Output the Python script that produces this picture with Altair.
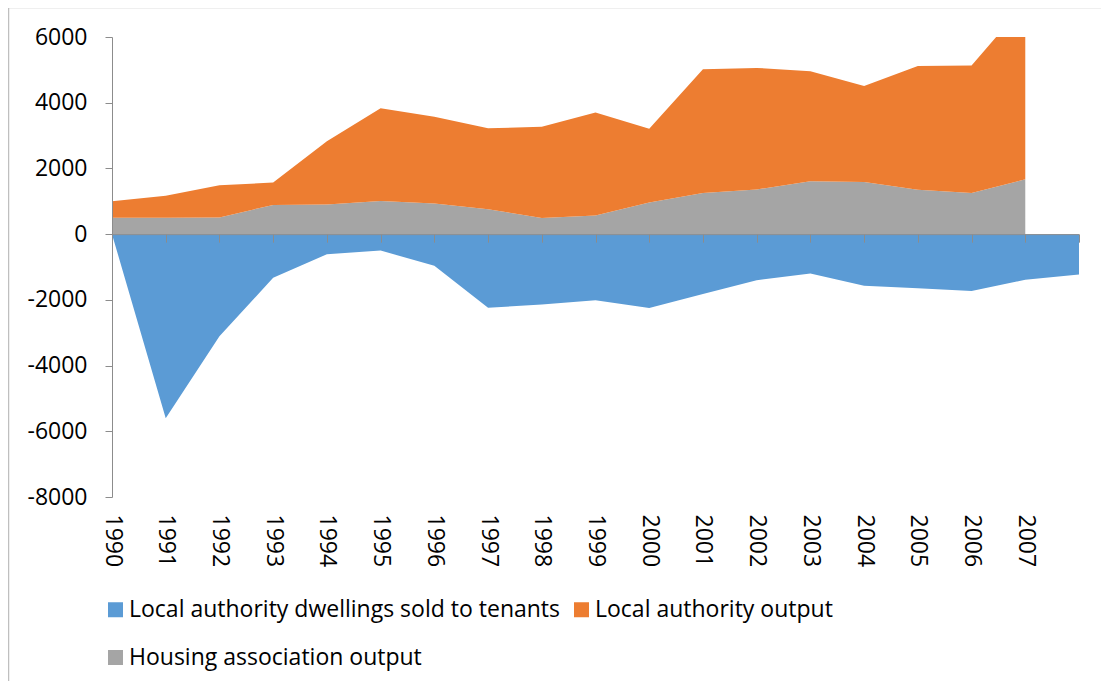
import altair as alt
import pandas as pd

years = list(range(1990, 2009))
sold_to_tenants = [0, -5600, -3110, -1330, -610, -500, -960, -2240, -2140, -2010,
                   -2250, -1820, -1400, -1200, -1570, -1650, -1730, -1390, -1230]
la_output = [500, 670, 980, 680, 1930, 2820, 2640, 2460, 2780, 3130,
             2250, 3770, 3700, 3350, 2920, 3770, 3880, 5360, None]
ha_output = [500, 500, 510, 890, 900, 1010, 930, 760, 490, 570,
             960, 1250, 1360, 1610, 1590, 1350, 1250, 1670, None]

names = ["Local authority dwellings sold to tenants", "Local authority output",
         "Housing association output"]
colors = ["#5B9BD5", "#ED7D31", "#A5A5A5"]

df = pd.DataFrame({"year": years, "sold": sold_to_tenants, "la": la_output, "ha": ha_output})

FONT = "Open Sans"
FS = 23
W, H = 967, 460
YDOM = [-8000, 6000]
zero_offset = -(H - H * YDOM[1] / (YDOM[1] - YDOM[0]))

yaxis = alt.Axis(values=list(range(-8000, 6001, 2000)), labelExpr="'' + datum.value",
                 grid=False, domainColor="#8c8c8c", tickColor="#8c8c8c", tickSize=7,
                 labelPadding=18, labelFontSize=FS, labelFont=FONT, labelColor="#000000",
                 title=None, zindex=1)
yscale = alt.Scale(domain=YDOM, nice=False, zero=False)
xscale = alt.Scale(domain=[1990, 2008], nice=False, zero=False)

color_scale = alt.Scale(domain=names, range=colors)
legend = alt.Legend(orient="none", legendX=-8, legendY=561, direction="horizontal", columns=2,
                    title=None, symbolType="square", symbolSize=225, symbolStrokeWidth=0,
                    labelFontSize=FS, labelFont=FONT, labelColor="#000000", labelLimit=1000,
                    columnPadding=9, rowPadding=24, symbolOffset=0, labelOffset=2, padding=0)
color_enc = alt.Color("series:N", scale=color_scale, legend=legend)

base = alt.Chart(df)

blue = base.transform_calculate(series=f"'{names[0]}'").mark_area(clip=True, opacity=1).encode(
    x=alt.X("year:Q", scale=xscale, axis=alt.Axis(orient="bottom", values=years, format="d",
            labelAngle=90, labelExpr="datum.value == 2008 ? '' : datum.label",
            domain=False, ticks=False, grid=False, labelPadding=17, labelFontSize=FS,
            labelFont=FONT, labelColor="#000000", title=None, labelAlign="left",
            labelBaseline="middle")),
    y=alt.Y("sold:Q", scale=yscale, axis=yaxis),
    y2=alt.datum(0),
    color=color_enc,
)

gray = base.transform_filter("isValid(datum.ha)").transform_calculate(
    series=f"'{names[2]}'").mark_area(clip=True, opacity=1).encode(
    x=alt.X("year:Q", scale=xscale, axis=alt.Axis(orient="bottom", values=years, labels=False,
            domain=True, ticks=True, tickSize=8, grid=False, domainColor="#8c8c8c",
            tickColor="#8c8c8c", offset=zero_offset, title=None, zindex=1)),
    y=alt.Y("ha:Q", scale=yscale, axis=yaxis),
    y2=alt.datum(0),
    color=color_enc,
)

orange = base.transform_filter("isValid(datum.la)").transform_calculate(
    total="datum.ha + datum.la", series=f"'{names[1]}'").mark_area(clip=True, opacity=1).encode(
    x=alt.X("year:Q", scale=xscale, axis=None),
    y=alt.Y("total:Q", scale=yscale, axis=yaxis),
    y2=alt.Y2("ha:Q"),
    color=color_enc,
)

frame_df = pd.DataFrame({"k": [0]})
border_left = alt.Chart(frame_df).mark_rule(color="#bfbfbf", strokeWidth=1.5).encode(
    x=alt.value(-103.5), y=alt.value(-29.5), y2=alt.value(H + 184))
border_top = alt.Chart(frame_df).mark_rule(color="#bfbfbf", strokeWidth=1.5).encode(
    x=alt.value(-103.5), x2=alt.value(W + 22), y=alt.value(-29.5))

chart = alt.layer(blue, gray, orange, border_left, border_top).resolve_axis(
    x="independent").properties(
    width=W, height=H,
    background="white",
    autosize=alt.AutoSizeParams(type="none"),
    padding={"left": 104, "top": 29, "right": 22, "bottom": 184},
).configure_view(strokeWidth=0, stroke=None)

chart.save("out.html", embed_options={"renderer": "svg", "actions": False})
